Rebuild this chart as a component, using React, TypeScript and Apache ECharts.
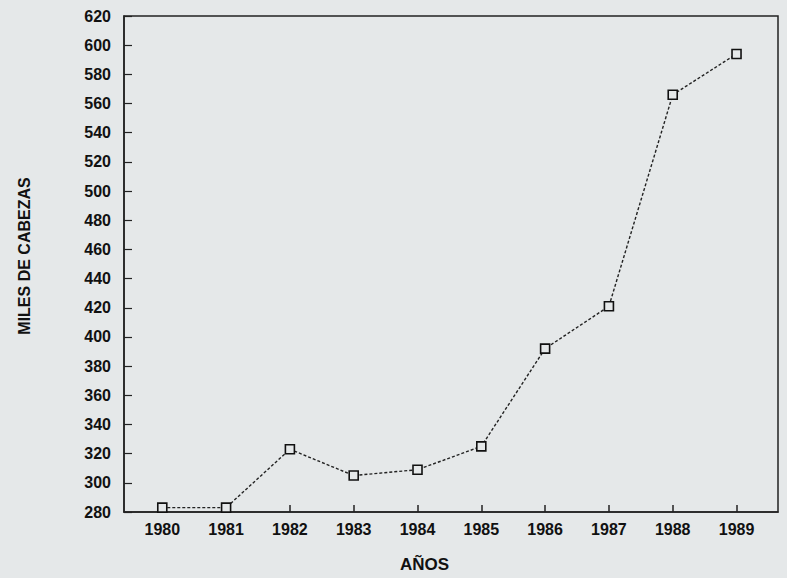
import React, { useEffect, useRef } from "react";
import * as echarts from "echarts";

const years = [1980, 1981, 1982, 1983, 1984, 1985, 1986, 1987, 1988, 1989];
const cabezas = [283, 283, 323, 305, 309, 325, 392, 421, 566, 594];
const yTitle = "MILES DE CABEZAS";
const xTitle = "AÑOS";

export default function App() {
  const ref = useRef<HTMLDivElement>(null);
  useEffect(() => {
    if (!ref.current) return;
    const chart = echarts.init(ref.current, undefined, { renderer: "svg" });
    const font = "Liberation Sans, Arial, sans-serif";
    chart.setOption({
      animation: false,
      backgroundColor: "#e5e8e9",
      textStyle: { fontFamily: font },
      grid: {
        left: 124,
        right: 9,
        top: 16,
        bottom: 66,
        show: true,
        borderColor: "#222",
        borderWidth: 1.5,
        backgroundColor: "transparent",
      },
      xAxis: {
        type: "value",
        min: 1979.4,
        max: 1989.65,
        axisLine: { lineStyle: { color: "#222", width: 1.5 } },
        axisTick: {
          inside: true,
          length: 7,
          customValues: years,
          lineStyle: { color: "#222", width: 1.5 },
        },
        axisLabel: {
          customValues: years,
          formatter: (v: number) => String(v),
          color: "#111",
          fontWeight: "bold",
          fontSize: 16,
          margin: 9,
          fontFamily: font,
        },
        splitLine: { show: false },
      },
      yAxis: {
        type: "value",
        min: 280,
        max: 620,
        interval: 20,
        name: yTitle,
        nameLocation: "middle",
        nameGap: 92,
        nameTextStyle: { color: "#111", fontWeight: "bold", fontSize: 16, fontFamily: font, padding: [0, 0, 0, 16] },
        axisLine: { show: true, lineStyle: { color: "#222", width: 1.5 } },
        axisTick: { show: true, inside: true, length: 8, lineStyle: { color: "#222", width: 1.2 } },
        axisLabel: { color: "#111", fontWeight: "bold", fontSize: 16, margin: 13, fontFamily: font },
        splitLine: { show: false },
      },
      graphic: [
        {
          type: "text",
          left: 400,
          top: 556,
          style: {
            text: xTitle,
            fill: "#111",
            font: `bold 17px ${font}`,
          },
        },
      ],
      series: [
        {
          type: "line",
          data: years.map((y, i) => [y, cabezas[i]]),
          symbol: "rect",
          symbolSize: 9,
          lineStyle: { color: "#222", width: 1.4, type: [3, 2] },
          itemStyle: { color: "#e5e8e9", borderColor: "#111", borderWidth: 1.6 },
        },
      ],
    });
    return () => chart.dispose();
  }, []);
  return (
    <div
      ref={ref}
      style={{ position: "fixed", left: 0, top: 0, width: 787, height: 578 }}
    />
  );
}
